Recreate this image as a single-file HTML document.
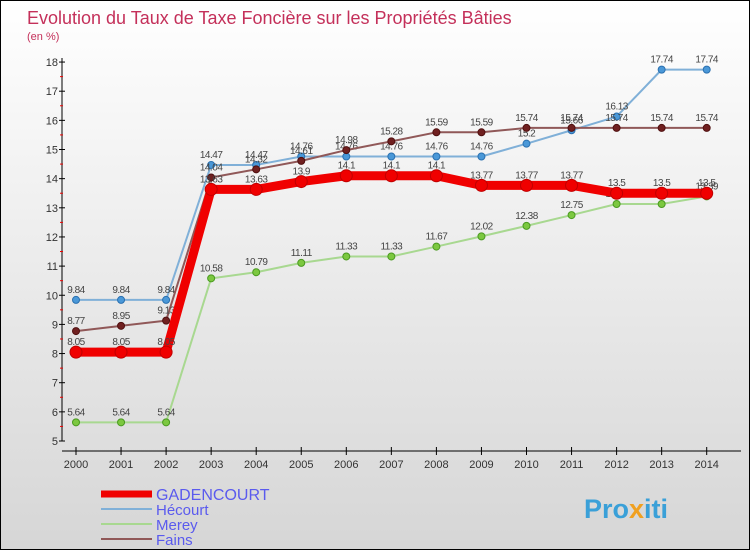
<!DOCTYPE html>
<html><head><meta charset="utf-8"><style>
body{margin:0}
#c{width:748px;height:548px;border:1px solid #000;background:linear-gradient(#fff,#d6d6d6);position:relative;font-family:"Liberation Sans",sans-serif;overflow:hidden}
</style></head><body>
<div id="c">
<svg id="s" width="748" height="548" style="position:absolute;left:0;top:0">
<text x="26" y="23" font-size="18" fill="#c4305a">Evolution du Taux de Taxe Foncière sur les Propriétés Bâties</text>
<text x="26" y="39" font-size="11" fill="#c4305a">(en %)</text>
<g id="axes"></g><g id="series"></g><g id="legend"></g>
<text x="583" y="517" font-size="27" font-weight="bold" fill="#3aa0d8">Pro<tspan fill="#f0a020">x</tspan>iti</text>
</svg>
</div>
<script>
const years=[2000,2001,2002,2003,2004,2005,2006,2007,2008,2009,2010,2011,2012,2013,2014];
const yTicks=[5,6,7,8,9,10,11,12,13,14,15,16,17,18];
const gadencourt=[8.05,8.05,8.05,13.63,13.63,13.9,14.1,14.1,14.1,13.77,13.77,13.77,13.5,13.5,13.5];
const hecourt=[9.84,9.84,9.84,14.47,14.47,14.76,14.76,14.76,14.76,14.76,15.2,15.66,16.13,17.74,17.74];
const merey=[5.64,5.64,5.64,10.58,10.79,11.11,11.33,11.33,11.67,12.02,12.38,12.75,13.13,13.13,13.39];
const fains=[8.77,8.95,9.13,14.04,14.32,14.61,14.98,15.28,15.59,15.59,15.74,15.74,15.74,15.74,15.74];
const NS="http://www.w3.org/2000/svg";
const X=i=>75+i*45.05, Y=v=>440-(v-5)*29.15;
function mk(p,t,a){const e=document.createElementNS(NS,t);for(const k in a)e.setAttribute(k,a[k]);p.appendChild(e);return e;}
const ax=document.getElementById('axes');
mk(ax,'line',{x1:61,y1:57,x2:61,y2:440,stroke:'#000'});
mk(ax,'line',{x1:61,y1:450,x2:740,y2:450,stroke:'#000'});
yTicks.forEach(v=>{
 mk(ax,'line',{x1:58,y1:Y(v),x2:64,y2:Y(v),stroke:'#000'});
 if(v<18)mk(ax,'line',{x1:59,y1:Y(v+0.5),x2:62,y2:Y(v+0.5),stroke:'#e00'});
 const t=mk(ax,'text',{x:57,y:Y(v)+4,'font-size':11,'text-anchor':'end',fill:'#333'});t.textContent=v;
 
 
});
years.forEach((y,i)=>{
 mk(ax,'line',{x1:X(i),y1:446,x2:X(i),y2:454,stroke:'#000'});
 const t=mk(ax,'text',{x:X(i),y:467,'font-size':11,'text-anchor':'middle',fill:'#333'});t.textContent=y;
 
 
});
const sg=document.getElementById('series');
function series(name,data,col,w,dot,dotStroke,r){
 const g=mk(sg,'g',{});
 
 
 mk(g,'polyline',{points:data.map((v,i)=>X(i)+','+Y(v)).join(' '),fill:'none',stroke:col,'stroke-width':w,'stroke-linejoin':'round'});
 data.forEach((v,i)=>{
  const c=mk(g,'circle',{cx:X(i),cy:Y(v),r:r,fill:dot,stroke:dotStroke});
  
  
  const t=mk(g,'text',{x:X(i),y:Y(v)-7,'font-size':10,'text-anchor':'middle',fill:'#444','letter-spacing':'-0.5'});t.textContent=v;
  
  
 });
}
series('merey',merey,'#a8d890',2,'#7cc840','#4a9a20',3.5);
series('hecourt',hecourt,'#80b0d8',2,'#4a98d8','#2a70b0',3.5);
series('fains',fains,'#905858',2,'#702020','#501010',3.5);
series('gadencourt',gadencourt,'#f00000',9,'#f00000','#c00000',6);
const lg=document.getElementById('legend');
[['GADENCOURT','#f00000',7],['Hécourt','#80b0d8',2],['Merey','#a8d890',2],['Fains','#905858',2]].forEach((e,i)=>{
 const y=493+i*15;
 const l=mk(lg,'line',{x1:100,y1:y,x2:151,y2:y,stroke:e[1],'stroke-width':e[2]});
 
 
 const t=mk(lg,'text',{x:155,y:y+6,'font-size':i==0?16:15,fill:'#5a5aee'});t.textContent=e[0];
 
 
});
</script>
</body></html>
